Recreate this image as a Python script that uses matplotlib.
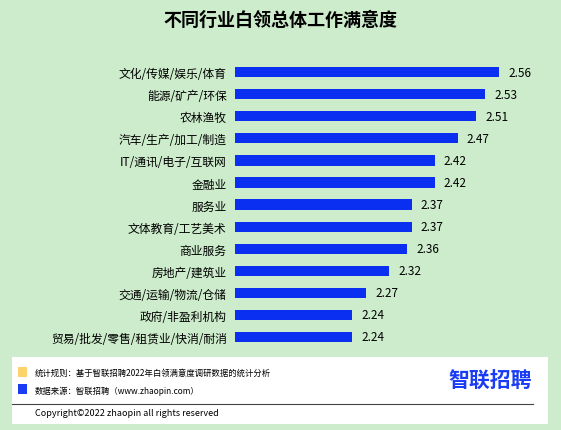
import matplotlib
matplotlib.use("Agg")
import matplotlib.pyplot as plt
from matplotlib.patches import Rectangle

plt.rcParams['font.family'] = ['Noto Sans CJK SC', 'DejaVu Sans']

categories = ["文化/传媒/娱乐/体育", "能源/矿产/环保", "农林渔牧", "汽车/生产/加工/制造",
              "IT/通讯/电子/互联网", "金融业", "服务业", "文体教育/工艺美术", "商业服务",
              "房地产/建筑业", "交通/运输/物流/仓储", "政府/非盈利机构", "贸易/批发/零售/租赁业/快消/耐消"]
values = [2.56, 2.53, 2.51, 2.47, 2.42, 2.42, 2.37, 2.37, 2.36, 2.32, 2.27, 2.24, 2.24]

W, H = 561, 431
fig = plt.figure(figsize=(W/100, H/100), dpi=100)
fig.patch.set_facecolor('#cdeccc')

# axes: x 235..? , y 60..350
x0, x1 = 235, 540
ax = fig.add_axes([x0/W, 1-350/H, (x1-x0)/W, (350-60)/H])
ax.set_facecolor('none')
b = 459.0
vmin = 2.56 - (499-235)/b
ax.set_xlim(vmin, vmin + (x1-x0)/b)
n = len(values)
ys = list(range(n))
ax.barh(ys, values, height=0.46, color='#0a2ff0')
ax.set_ylim(n-0.5+0.05, -0.5-0.1)
ax.set_yticks(ys)
ax.set_yticklabels(categories, fontsize=8.5)
ax.tick_params(axis='y', length=0, pad=6)
ax.set_xticks([])
for s in ax.spines.values():
    s.set_visible(False)
for y, v in zip(ys, values):
    ax.text(v + 0.02, y, f"{v:.2f}", va='center', ha='left', fontsize=8.5)

fig.text(0.5, 1-20/H, "不同行业白领总体工作满意度", ha='center', va='center', fontsize=13, fontweight='bold')

# footer box
fig.patches.append(Rectangle((12/W, 1-425/H), 536/W, 67/H, transform=fig.transFigure,
                             facecolor='white', edgecolor='none'))
fig.patches.append(Rectangle((18/W, 1-378/H), 9/W, 10/H, transform=fig.transFigure,
                             facecolor='#ffd36b', edgecolor='none'))
fig.patches.append(Rectangle((18/W, 1-395/H), 9/W, 10/H, transform=fig.transFigure,
                             facecolor='#1a3cf5', edgecolor='none'))
fig.text(35/W, 1-373/H, "统计规则：基于智联招聘2022年白领满意度调研数据的统计分析", fontsize=6, va='center')
fig.text(35/W, 1-391/H, "数据来源：智联招聘（www.zhaopin.com）", fontsize=6, va='center')
fig.text(490/W, 1-381/H, "智联招聘", fontsize=15, fontweight='bold', color='#1a3cf5', ha='center', va='center')
fig.lines.append(plt.Line2D([12/W, 533/W], [1-405/H, 1-405/H], transform=fig.transFigure,
                            color='#444444', lw=0.8))
fig.text(35/W, 1-414/H, "Copyright©2022 zhaopin all rights reserved", fontsize=6.5, va='center')

fig.savefig("out.png", dpi=100, facecolor=fig.get_facecolor())
